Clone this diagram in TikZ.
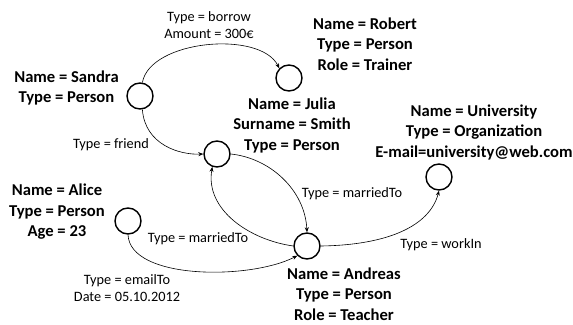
\documentclass[tikz,border=0pt]{standalone}
\usepackage{fontspec}
\setmainfont{Carlito}
\usetikzlibrary{arrows.meta}
\begin{document}
\begin{tikzpicture}[x=1pt,y=-1pt,
  vert/.style={circle,draw,line width=1.4pt,minimum size=26pt,inner sep=0pt},
  attr/.style={align=center,font=\fontsize{16.6}{20.5}\selectfont\bfseries,inner sep=0pt},
  elab/.style={align=center,font=\fontsize{14.3}{17.5}\selectfont,inner sep=0pt},
  edge/.style={draw,line width=0.6pt,-{Stealth[length=5pt,width=4pt]}}]
\useasboundingbox (0,0) rectangle (573,324);
\node[vert] (sandra) at (140,96) {};
\node[vert] (robert) at (289,78) {};
\node[vert] (julia) at (217,154) {};
\node[vert] (alice) at (128,221) {};
\node[vert] (andreas) at (307,246) {};
\node[vert] (univ) at (439,177) {};
\node[attr] (tsandra) at (66.5,88) {Name = Sandra\\Type = Person};
\node[attr] (trobert) at (365,44) {Name = Robert\\Type = Person\\Role = Trainer};
\node[attr] (tjulia) at (292,125) {Name = Julia\\Surname = Smith\\Type = Person};
\node[attr] (tuniv) at (474,132) {Name = University\\Type = Organization\\E-mail=university@web.com};
\node[attr] (talice) at (57,212) {Name = Alice\\Type = Person\\Age = 23};
\node[attr] (tandreas) at (344,294) {Name = Andreas\\Type = Person\\Role = Teacher};
\node[elab] (lborrow) at (209,25) {Type = borrow\\Amount = 300€};
\node[elab] (lfriend) at (111,145) {Type = friend};
\node[elab] (lmar1) at (352,194) {Type = marriedTo};
\node[elab] (lmar2) at (198,239) {Type = marriedTo};
\node[elab] (lemail) at (127,288) {Type = emailTo\\Date = 05.10.2012};
\node[elab] (lwork) at (441,245) {Type = workIn};
\draw[edge] (sandra.80) .. controls (150,40) and (260,30) .. (robert.135);
\draw[edge] (sandra.-80) .. controls (145,145) and (180,155) .. (julia.west);
\draw[edge] (julia.east) .. controls (270,158) and (305,190) .. (andreas.north);
\draw[edge] (andreas.west) .. controls (250,240) and (205,210) .. (julia.-110);
\draw[edge] (alice.-90) .. controls (130,280) and (250,280) .. (andreas.-135);
\draw[edge] (andreas.east) .. controls (390,245) and (430,225) .. (univ.south);
\end{tikzpicture}
\end{document}
